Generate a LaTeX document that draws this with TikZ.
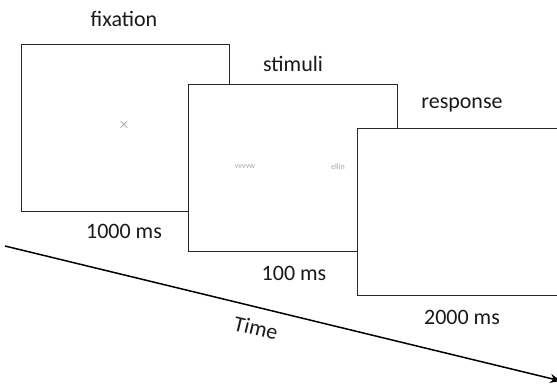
\documentclass[tikz,border=0pt]{standalone}
\usepackage{fontspec}
\setmainfont{Carlito}
\usetikzlibrary{arrows.meta}
\tikzset{
  screen/.style={draw=black!85, line width=1.2pt, fill=white},
  caption/.style={font=\fontsize{22}{24}\selectfont, text=black!90, inner sep=0pt},
  faint/.style={text=black!35, inner sep=0pt, font=\fontsize{8}{9}\selectfont\rmfamily},
  timeline/.style={line width=1.5pt, -{Stealth[length=11pt,width=9pt]}}
}
\begin{document}
\begin{tikzpicture}[x=1pt, y=-1pt]
  \useasboundingbox (0,0) rectangle (557,386);
  % time axis (drawn first, screens lie above it)
  \coordinate (t0) at (5,246);
  \coordinate (t1) at (561,381);
  \draw[timeline] (t0) -- (t1);
  \node[caption, rotate=-13.5] (time) at (256,328) {Time};

  % fixation screen
  \node[screen, minimum width=208pt, minimum height=167pt, anchor=north west] (fix) at (21,43.5) {};
  \node[text=black!55, font=\fontsize{14}{14}\selectfont\bfseries] (cross) at (124,125) {$\times$};
  \node[caption] (fixlab) at (124,18.5) {fixation};
  \node[caption] (fixdur) at (124,231) {1000 ms};

  % stimulus screen
  \node[screen, minimum width=209pt, minimum height=167pt, anchor=north west] (stim) at (188,83.5) {};
  \node[faint] (left) at (245,167) {vvvvw};
  \node[faint] (right) at (338,167) {ellin};
  \node[caption] (stimlab) at (293,64) {stimuli};
  \node[caption] (stimdur) at (294,273) {100 ms};

  % response screen
  \node[screen, minimum width=212pt, minimum height=167pt, anchor=north west] (resp) at (357,127.5) {};
  \node[caption] (resplab) at (462,105) {response};
  \node[caption] (respdur) at (462,317.5) {2000 ms};
\end{tikzpicture}
\end{document}
